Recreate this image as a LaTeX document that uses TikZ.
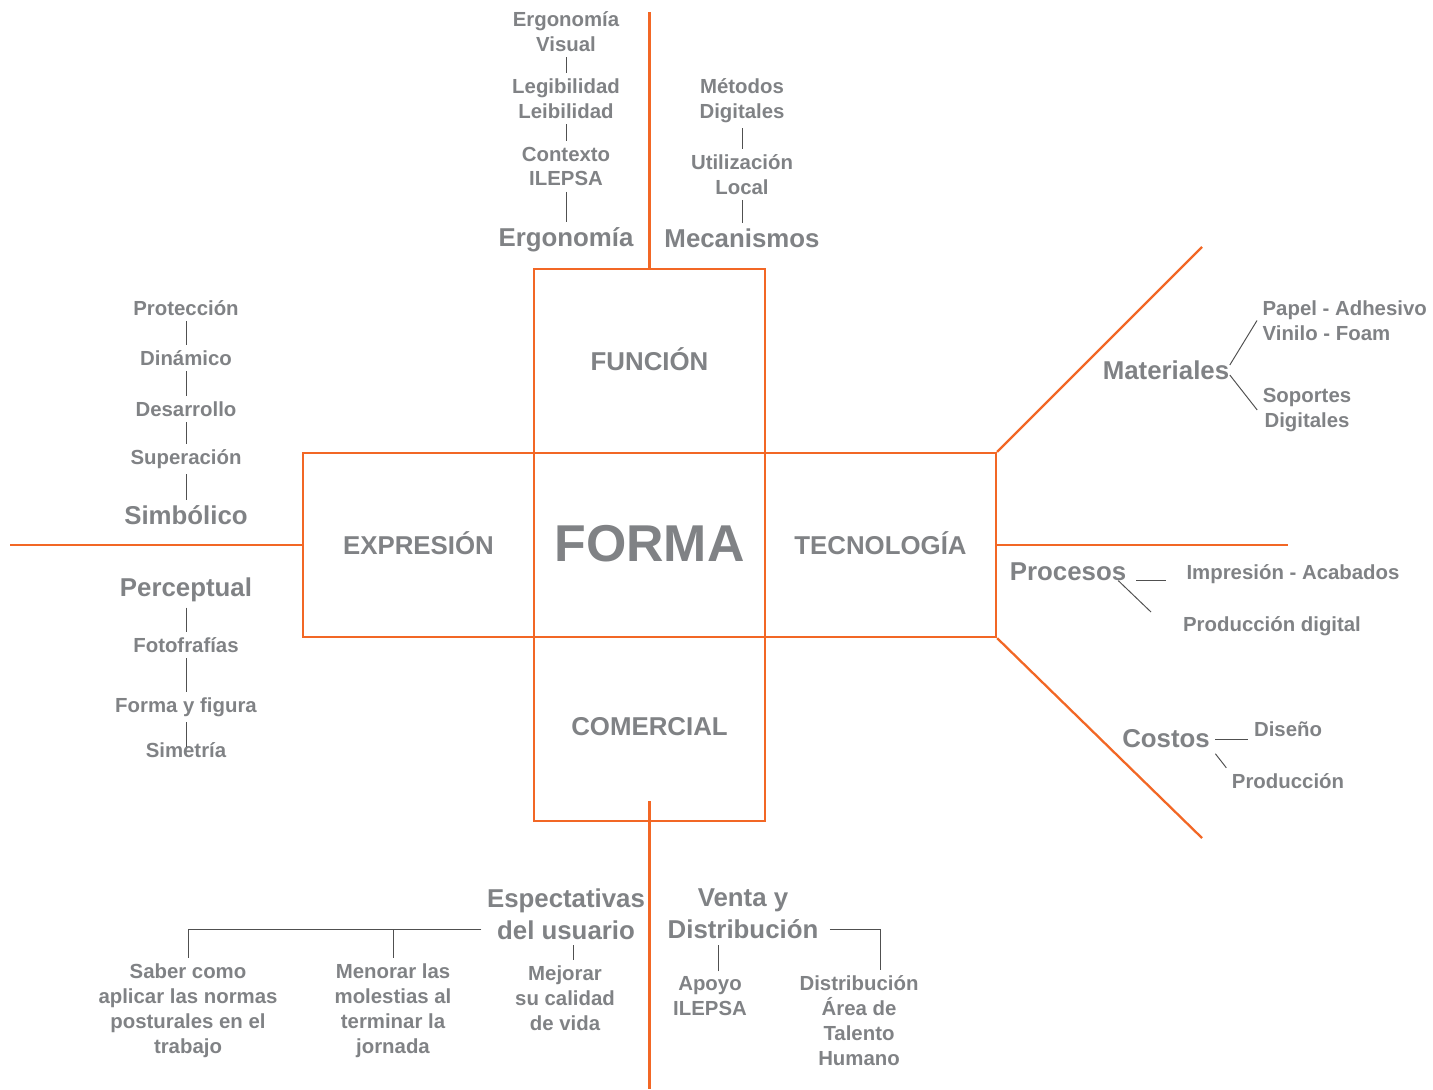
\documentclass[tikz,border=0pt]{standalone}
\usepackage{fontspec}
\setmainfont{Liberation Sans}
\usetikzlibrary{positioning}
\usetikzlibrary{calc}
\definecolor{naranja}{RGB}{242,103,37}
\definecolor{gris}{RGB}{128,130,133}
\definecolor{trazo}{RGB}{80,80,80}
\tikzset{every picture/.style={x=0.02cm,y=-0.02cm},
  caja/.style={draw=naranja,line width=1.3pt,minimum width=4.62cm,minimum height=3.68cm,inner sep=0pt,text depth=0.25em,text=gris,font=\bfseries\fontsize{14.7}{17}\selectfont},
  rama/.style={draw=naranja,line width=1.3pt},
  hoja/.style={text=gris,align=center,inner sep=3pt,font=\bfseries\fontsize{11.6}{14.2}\selectfont},
  tema/.style={text=gris,align=center,inner sep=3pt,font=\bfseries\fontsize{14.7}{18.1}\selectfont},
  enlace/.style={draw=trazo,line width=0.55pt}}
\begin{document}
\begin{tikzpicture}
\useasboundingbox (0,0) rectangle (1433,1089);
% cruz central
\node[caja,text depth=0.2em,font=\bfseries\fontsize{29.5}{32}\selectfont] (forma) at (649.5,545) {FORMA};
\node[caja] (funcion) at (649.5,361) {FUNCIÓN};
\node[caja] (comercial) at (649.5,729) {COMERCIAL};
\node[caja] (expresion) at (418.5,545) {EXPRESIÓN};
\node[caja] (tecnologia) at (880.5,545) {TECNOLOGÍA};
\coordinate (arriba) at (649.5,12);
\coordinate (abajo) at (649.5,1089);
\coordinate (izq) at (10,545);
\coordinate (der) at (1288,545);
\coordinate (diagsup) at (1202,247);
\coordinate (diaginf) at (1202,838);
\draw[rama] (funcion.north) -- (arriba);
\draw[rama] ([yshift=0.42cm]comercial.south) -- (abajo);
\draw[rama] (expresion.west) -- (izq);
\draw[rama] (tecnologia.east) -- (der);
\draw[rama] (tecnologia.north east) -- (diagsup);
\draw[rama] (tecnologia.south east) -- (diaginf);
% funcion
\node[hoja] (ergvis) at (566,31.5) {Ergonomía\\Visual};
\node[hoja] (legib) at (566,98.5) {Legibilidad\\Leibilidad};
\node[hoja] (contex) at (566,166.5) {Contexto\\ILEPSA};
\node[tema] (ergo) at (566,240) {Ergonomía};
\node[hoja] (metod) at (742,100.5) {Métodos\\Digitales};
\node[hoja] (utili) at (742,174.5) {Utilización\\Local};
\node[tema] (mecan) at (742,238) {Mecanismos};
\draw[enlace] (ergvis) -- (legib);
\draw[enlace] (legib) -- (contex);
\draw[enlace] (contex) -- (ergo);
\draw[enlace] (metod) -- (utili);
\draw[enlace] (utili) -- (mecan);
% expresion
\node[hoja] (prot) at (186,308) {Protección};
\node[hoja] (dina) at (186,358) {Dinámico};
\node[hoja] (desa) at (186,409) {Desarrollo};
\node[hoja] (supe) at (186,459) {Superación};
\node[tema] (simb) at (186,515) {Simbólico};
\node[tema] (perc) at (186,590) {Perceptual};
\node[hoja] (foto) at (186,645) {Fotofrafías};
\node[hoja] (fyf) at (186,707) {Forma y figura};
\node[hoja] (sime) at (186,750) {Simetría};
\draw[enlace] (prot) -- (dina);
\draw[enlace] (dina) -- (desa);
\draw[enlace] (desa) -- (supe);
\draw[enlace] (supe) -- (simb);
\draw[enlace] (perc) -- (foto);
\draw[enlace] (foto) -- (fyf);
\draw[enlace,shorten >=-0.2cm] (fyf) -- (sime);
% tecnologia
\node[tema] (mater) at (1166,370) {Materiales};
\node[hoja,align=left,anchor=west] (papel) at (1257,320.5) {Papel - Adhesivo\\Vinilo - Foam};
\node[hoja] (sopor) at (1307,410) {Soportes\\Digitales};
\node[tema] (proc) at (1068,572) {Procesos};
\node[hoja] (impr) at (1293,574) {Impresión - Acabados};
\node[hoja] (prodd) at (1272,626) {Producción digital};
\node[tema] (costo) at (1166,739) {Costos};
\node[hoja] (dise) at (1288,729) {Diseño};
\node[hoja] (prodc) at (1288,781) {Producción};
\coordinate (procfin) at (1151,612);
\draw[enlace] ([xshift=-0.1cm,yshift=0.1cm]mater.east) -- (papel.west);
\draw[enlace] ([xshift=-0.1cm,yshift=-0.1cm]mater.east) -- (sopor.west);
\draw[enlace,shorten <=0.09cm,shorten >=0.3cm] ([yshift=-0.16cm]proc.east) -- ([yshift=-0.16cm]proc.east -| impr.west);
\draw[enlace] ([xshift=-0.27cm,yshift=0.12cm]proc.south east) -- (procfin);
\draw[enlace] (costo.east) -- (costo.east -| dise.west);
\draw[enlace] (costo.south east) -- (prodc.north west);
% comercial
\node[tema] (esp) at (566,914) {Espectativas\\del usuario};
\node[hoja] (saber) at (188,1011) {Saber como\\aplicar las normas\\posturales en el\\trabajo};
\node[hoja] (menor) at (393,1011) {Menorar las\\molestias al\\terminar la\\jornada};
\node[hoja] (mejor) at (565,998.5) {Mejorar\\su calidad\\de vida};
\node[tema] (venta) at (743,914) {Venta y\\Distribución};
\node[hoja] (apoyo) at (710,996.5) {Apoyo\\ILEPSA};
\node[hoja] (distr) at (859,1021) {Distribución\\Área de\\Talento\\Humano};
\draw[enlace] ([yshift=-0.3cm]esp.west) -| (saber.north);
\draw[enlace] ([yshift=-0.3cm]esp.west -| menor.north) -- (menor.north);
\draw[enlace] ([xshift=0.14cm]esp.south) -- ([xshift=0.14cm]esp.south |- mejor.north);
\draw[enlace] ([xshift=0.16cm]apoyo.north) -- ([xshift=0.16cm]apoyo.north |- venta.south);
\draw[enlace,shorten <=0.12cm] ([yshift=-0.3cm]venta.east) -| ([xshift=0.42cm]distr.north);
\end{tikzpicture}
\end{document}
